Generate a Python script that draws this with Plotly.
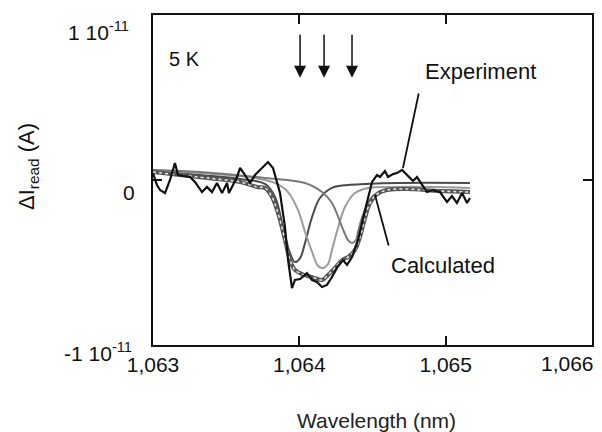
import plotly.graph_objects as go

# ---------------- data (current in units of 1e-11 A) ----------------
exp_wl = [1063.000, 1063.027, 1063.048, 1063.082, 1063.116, 1063.150, 1063.171, 1063.219,
          1063.253, 1063.287, 1063.335, 1063.369, 1063.403, 1063.437, 1063.472, 1063.506,
          1063.519, 1063.574, 1063.595, 1063.629, 1063.663, 1063.697, 1063.745, 1063.786,
          1063.820, 1063.868, 1063.902, 1063.923, 1063.950, 1063.970, 1064.005, 1064.052,
          1064.087, 1064.121, 1064.155, 1064.189, 1064.223, 1064.257, 1064.298, 1064.326,
          1064.360, 1064.401, 1064.449, 1064.497, 1064.531, 1064.551, 1064.585, 1064.606,
          1064.640, 1064.667, 1064.702, 1064.736, 1064.777, 1064.804, 1064.838, 1064.872,
          1064.913, 1064.961, 1065.009, 1065.043, 1065.077, 1065.112, 1065.146, 1065.166]
exp_i = [0.042, -0.030, -0.061, -0.079, 0.000, 0.103, 0.030, 0.024,
         0.018, -0.012, -0.073, -0.042, -0.073, -0.018, -0.079, -0.018,
         -0.079, 0.018, 0.073, 0.030, -0.018, 0.030, 0.073, 0.109,
         0.073, -0.079, -0.285, -0.485, -0.655, -0.606, -0.600, -0.564,
         -0.606, -0.618, -0.648, -0.636, -0.588, -0.533, -0.485, -0.515,
         -0.467, -0.364, -0.182, -0.012, 0.030, 0.018, 0.055, 0.018,
         0.036, 0.042, 0.061, 0.030, -0.006, 0.018, -0.030, -0.073,
         -0.061, -0.073, -0.133, -0.097, -0.139, -0.079, -0.139, -0.109]

calc_wl = [1063.000, 1063.185, 1063.369, 1063.595, 1063.711, 1063.765, 1063.813, 1063.854,
           1063.902, 1063.936, 1063.970, 1064.018, 1064.059, 1064.107, 1064.155, 1064.196,
           1064.244, 1064.292, 1064.333, 1064.380, 1064.415, 1064.449, 1064.483, 1064.531,
           1064.599, 1064.736, 1064.961, 1065.166]
calc_i = [0.048, 0.030, 0.012, -0.012, -0.042, -0.048, -0.103, -0.200,
          -0.364, -0.485, -0.545, -0.570, -0.582, -0.594, -0.606, -0.576,
          -0.533, -0.485, -0.467, -0.424, -0.345, -0.230, -0.139, -0.085,
          -0.061, -0.055, -0.067, -0.073]

comp1_wl = [1063.000, 1063.321, 1063.595, 1063.765, 1063.834, 1063.888, 1063.936, 1063.970,
            1064.005, 1064.039, 1064.087, 1064.141, 1064.223, 1064.333, 1064.449, 1064.688, 1065.166]
comp1_i = [0.055, 0.030, 0.006, -0.024, -0.103, -0.285, -0.442, -0.497,
           -0.473, -0.382, -0.224, -0.109, -0.048, -0.030, -0.024, -0.018, -0.018]

comp2_wl = [1063.000, 1063.321, 1063.595, 1063.765, 1063.834, 1063.923, 1063.991, 1064.039,
            1064.087, 1064.128, 1064.162, 1064.196, 1064.223, 1064.264, 1064.312, 1064.380,
            1064.470, 1064.654, 1064.893, 1065.166]
comp2_i = [0.061, 0.042, 0.024, 0.000, -0.018, -0.073, -0.182, -0.315,
           -0.436, -0.521, -0.533, -0.509, -0.424, -0.291, -0.164, -0.079,
           -0.048, -0.042, -0.042, -0.048]

comp3_wl = [1063.000, 1063.321, 1063.765, 1064.039, 1064.155, 1064.223, 1064.292, 1064.333,
            1064.360, 1064.387, 1064.401, 1064.435, 1064.497, 1064.565, 1064.654, 1064.893, 1065.166]
comp3_i = [0.061, 0.048, 0.012, -0.018, -0.073, -0.139, -0.285, -0.364,
           -0.382, -0.364, -0.315, -0.212, -0.103, -0.073, -0.061, -0.061, -0.067]

arrow_wl = [1064.005, 1064.169, 1064.360]

xtick_vals = [1063, 1064, 1065, 1066]
xtick_text = ["1,063", "1,064", "1,065", "1,066"]
ytick_vals = [1, 0, -1]
ytick_text = ["1 10<sup>-11</sup>", "0", "-1 10<sup>-11</sup>"]

FONT = "Liberation Sans, Arial, Helvetica, sans-serif"
INK = "#111111"

fig = go.Figure()

comp_colors = ["#4a4a4a", "#9c9c9c", "#787878"]
for wl, cur, col in [(comp1_wl, comp1_i, comp_colors[0]),
                     (comp2_wl, comp2_i, comp_colors[1]),
                     (comp3_wl, comp3_i, comp_colors[2])]:
    fig.add_trace(go.Scatter(x=wl, y=cur, mode="lines",
                             line=dict(color=col, width=2, shape="spline", smoothing=1.0),
                             showlegend=False, hoverinfo="skip"))

fig.add_trace(go.Scatter(x=calc_wl, y=calc_i, mode="lines",
                         line=dict(color="#555555", width=4, shape="spline", smoothing=1.0),
                         showlegend=False, hoverinfo="skip"))
fig.add_trace(go.Scatter(x=calc_wl, y=calc_i, mode="lines",
                         line=dict(color="#e8e8e8", width=1.5, dash="dot", shape="spline", smoothing=1.0),
                         showlegend=False, hoverinfo="skip"))

fig.add_trace(go.Scatter(x=exp_wl, y=exp_i, mode="lines",
                         line=dict(color=INK, width=2.2),
                         showlegend=False, hoverinfo="skip"))

annotations = []
# arrows
for a in arrow_wl:
    annotations.append(dict(x=a, y=0.62, ax=a, ay=0.89, xref="x", yref="y", axref="x", ayref="y",
                            text="", showarrow=True, arrowhead=2, arrowsize=1.6, arrowwidth=1.5,
                            arrowcolor=INK))
# pointer lines
annotations.append(dict(x=1064.708, y=0.073, ax=1064.818, ay=0.533, xref="x", yref="y",
                        axref="x", ayref="y", text="", showarrow=True, arrowhead=0,
                        arrowwidth=1.8, arrowcolor=INK))
annotations.append(dict(x=1064.517, y=-0.091, ax=1064.613, ay=-0.406, xref="x", yref="y",
                        axref="x", ayref="y", text="", showarrow=True, arrowhead=0,
                        arrowwidth=1.8, arrowcolor=INK))
# labels
annotations.append(dict(x=1063.212, y=0.733, xref="x", yref="y", text="5 K", showarrow=False,
                        xanchor="center", yanchor="middle",
                        font=dict(size=20, color=INK, family=FONT)))
annotations.append(dict(x=1065.241, y=0.655, xref="x", yref="y", text="Experiment", showarrow=False,
                        xanchor="center", yanchor="middle",
                        font=dict(size=22, color=INK, family=FONT)))
annotations.append(dict(x=1064.982, y=-0.521, xref="x", yref="y", text="Calculated", showarrow=False,
                        xanchor="center", yanchor="middle",
                        font=dict(size=22, color=INK, family=FONT)))
# y tick labels (drawn slightly below their ticks, as in the original)
yshifts = [-16, -12, -7]
xshifts = [-22, -16, -19]
for v, t, ys, xs in zip(ytick_vals, ytick_text, yshifts, xshifts):
    annotations.append(dict(x=0, y=v, xref="paper", yref="y", text=t, showarrow=False,
                            xanchor="right", yanchor="middle", xshift=xs, yshift=ys,
                            font=dict(size=21, color=INK, family=FONT)))
# last x tick label kept inside the figure
annotations.append(dict(x=xtick_vals[-1], y=0, xref="x", yref="paper", text=xtick_text[-1],
                        showarrow=False, xanchor="right", yanchor="top", xshift=3, yshift=-6,
                        borderpad=0,
                        font=dict(size=21, color=INK, family=FONT)))
# axis titles
annotations.append(dict(x=0, y=0.5, xref="paper", yref="paper", text="ΔI<sub>read</sub> (A)",
                        showarrow=False, textangle=-90, xanchor="center", yanchor="middle",
                        xshift=-125, yshift=13,
                        font=dict(size=22, color=INK, family=FONT)))
annotations.append(dict(x=0.51, y=0, xref="paper", yref="paper", text="Wavelength (nm)",
                        showarrow=False, xanchor="center", yanchor="middle", yshift=-75,
                        borderpad=0,
                        font=dict(size=21, color="#222222", family=FONT)))

# page body has an 8px margin: size the figure so the plot box lands at 153..592 x 15..345
fig.update_layout(
    width=594, height=424,
    margin=dict(l=145, r=10, t=7, b=87),
    paper_bgcolor="white", plot_bgcolor="white",
    annotations=annotations,
    xaxis=dict(range=[1063, 1066], tickvals=xtick_vals[:-1], ticktext=xtick_text[:-1],
               ticks="inside", ticklen=9, tickwidth=1.5, tickcolor=INK,
               showline=True, linecolor=INK, linewidth=1.8, mirror="ticks",
               showgrid=False, zeroline=False, automargin=False,
               tickfont=dict(size=21, color=INK, family=FONT)),
    yaxis=dict(range=[-1, 1], tickvals=ytick_vals, showticklabels=False,
               ticks="inside", ticklen=9, tickwidth=1.5, tickcolor=INK,
               showline=True, linecolor=INK, linewidth=1.8, mirror="ticks",
               showgrid=False, zeroline=False, automargin=False),
)

fig.write_html("out.html")
